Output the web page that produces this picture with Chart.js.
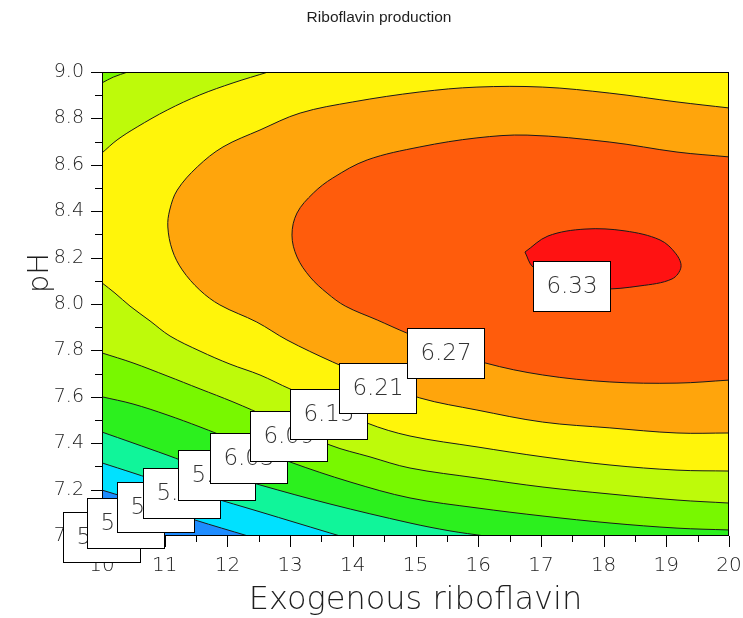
<!DOCTYPE html>
<html>
<head>
<meta charset="utf-8">
<script src="https://cdn.jsdelivr.net/npm/chart.js@4.4.1/dist/chart.umd.min.js"></script>
<style>
  html, body { margin: 0; padding: 0; background: #ffffff; }
  canvas { display: block; }
</style>
</head>
<body>
<canvas id="chart" width="743" height="618"></canvas>
<script>
// Contour levels of riboflavin production
const levels = [5.73, 5.79, 5.85, 5.91, 5.97, 6.03, 6.09, 6.15, 6.21, 6.27, 6.33];

// Axis ticks
const xTicks = [10, 11, 12, 13, 14, 15, 16, 17, 18, 19, 20];
const xMinorTicks = [10.5, 11.5, 12.5, 13.5, 14.5, 15.5, 16.5, 17.5, 18.5, 19.5];
const yTicks = [7.0, 7.2, 7.4, 7.6, 7.8, 8.0, 8.2, 8.4, 8.6, 8.8, 9.0];
const yMinorTicks = [7.1, 7.3, 7.5, 7.7, 7.9, 8.1, 8.3, 8.5, 8.7, 8.9];

// Contour lines as [exogenous riboflavin, pH] pairs
const line585 = [[10.0, 7.198], [10.766, 7.134], [11.483, 7.069], [12.329, 7.0]];
const line591 = [[10.0, 7.315], [10.494, 7.272], [11.037, 7.224], [11.722, 7.168], [12.472, 7.108], [13.158, 7.052], [13.796, 7.0]];
const line597 = [[10.0, 7.448], [10.494, 7.401], [11.037, 7.349], [11.563, 7.297], [12.52, 7.22], [13.636, 7.138], [14.912, 7.056], [15.55, 7.022], [16.108, 7.0]];
const line603 = [[10.0, 7.6], [10.494, 7.569], [11.037, 7.522], [11.563, 7.47], [12.089, 7.414], [12.998, 7.319], [13.955, 7.233], [14.912, 7.164], [15.981, 7.121], [17.033, 7.086], [18.102, 7.056], [19.171, 7.034], [20.0, 7.026]];
const line609 = [[10.0, 7.789], [10.494, 7.746], [11.037, 7.69], [11.563, 7.634], [12.089, 7.578], [12.679, 7.509], [13.636, 7.392], [14.274, 7.341], [14.912, 7.293], [15.981, 7.25], [17.033, 7.211], [18.102, 7.181], [19.171, 7.155], [20.0, 7.142]];
const line609Corner = [[10.41, 9.0], [10.18, 8.978], [10.0, 8.953]];
const line615 = [[10.0, 8.091], [10.207, 8.047], [10.447, 7.991], [10.766, 7.927], [11.085, 7.862], [11.563, 7.797], [12.041, 7.741], [12.52, 7.694], [12.998, 7.634], [13.636, 7.565], [14.226, 7.487], [14.912, 7.431], [15.981, 7.384], [17.033, 7.341], [18.102, 7.306], [19.171, 7.284], [20.0, 7.28]];
const line615Upper = [[12.65, 9.0], [12.09, 8.953], [11.56, 8.901], [11.04, 8.836], [10.56, 8.763], [10.24, 8.707], [10.0, 8.651]];
const line621 = [[20.0, 8.845], [19.17, 8.871], [18.1, 8.909], [17.03, 8.935], [15.98, 8.935], [15.07, 8.914], [14.0, 8.871], [13.16, 8.823], [12.52, 8.75], [11.93, 8.677], [11.52, 8.591], [11.2, 8.491], [11.08, 8.405], [11.05, 8.332], [11.12, 8.233], [11.28, 8.147], [11.56, 8.06], [11.88, 7.996], [12.47, 7.922], [12.95, 7.845], [13.68, 7.75], [14.43, 7.664], [15.07, 7.595], [15.98, 7.543], [17.03, 7.491], [18.1, 7.466], [19.17, 7.444], [20.0, 7.444]];
const line627 = [[20.0, 8.634], [19.17, 8.655], [18.1, 8.698], [16.78, 8.728], [15.98, 8.716], [15.07, 8.677], [14.23, 8.621], [13.68, 8.543], [13.37, 8.478], [13.11, 8.392], [13.03, 8.297], [13.11, 8.203], [13.32, 8.116], [13.59, 8.047], [13.88, 7.991], [14.39, 7.931], [14.86, 7.875], [15.55, 7.802], [16.11, 7.746], [17.03, 7.694], [18.1, 7.664], [19.17, 7.659], [20.0, 7.672]];
const line633 = [[16.746, 8.224], [17.113, 8.293], [17.703, 8.323], [18.341, 8.315], [18.9, 8.276], [19.155, 8.216], [19.234, 8.159], [19.091, 8.108], [18.581, 8.078], [17.943, 8.065], [17.305, 8.091], [16.874, 8.159]];

// Band colours, lowest band first
const baseColor = '#1E8CFF';
const bandColors = ['#00E1FF', '#10F59A', '#2CF01E', '#78F800', '#BEFA0A', '#FFF50A', '#FFA50C', '#FF5C0C', '#FF1212'];

// Top-left corners of the contour value tags, in axis units
const labelAnchors = [[9.378, 7.103], [9.761, 7.164], [10.239, 7.233], [10.654, 7.293], [11.212, 7.371], [11.722, 7.444], [12.36, 7.539], [12.998, 7.634], [13.78, 7.746], [14.864, 7.897], [16.874, 8.185]];

const X_MIN = 10, X_MAX = 20, Y_MIN = 7, Y_MAX = 9;
// Polygon corners kept well outside the axes so only contour edges show
const OX0 = X_MIN - 1.5, OX1 = X_MAX + 1.5, OY0 = Y_MIN - 0.4, OY1 = Y_MAX + 0.4;

// Continue a contour slightly past both ends so it leaves the plot cleanly
function extend(line) {
  const a = line[0], b = line[1];
  const c = line[line.length - 1], d = line[line.length - 2];
  return [[2 * a[0] - b[0], 2 * a[1] - b[1]], ...line, [2 * c[0] - d[0], 2 * c[1] - d[1]]];
}
const first = l => l[0];
const last = l => l[l.length - 1];

// Region above a line running from the left edge to the bottom edge
function aboveToBottom(line) {
  return [...extend(line), [OX1, OY0], [OX1, OY1], [OX0, OY1], [OX0, first(line)[1]]];
}
// Region above a line running from the left edge to the right edge
function aboveLeftRight(line) {
  return [...extend(line), [OX1, last(line)[1]], [OX1, OY1], [OX0, OY1], [OX0, first(line)[1]]];
}
// Band between a lower left-right line and an upper line from the top edge to the left edge
function between(lower, upper) {
  return [...extend(lower), [OX1, last(lower)[1]], [OX1, OY1], [first(upper)[0], OY1],
          ...extend(upper), [OX0, last(upper)[1]], [OX0, first(lower)[1]]];
}
// Region inside a line that starts and ends on the right edge
function insideRight(line) {
  return [...extend(line), [OX1, last(line)[1]], [OX1, first(line)[1]]];
}

const regions = [
  aboveToBottom(line585),
  aboveToBottom(line591),
  aboveToBottom(line597),
  aboveLeftRight(line603),
  between(line609, line609Corner),
  between(line615, line615Upper),
  insideRight(line621),
  insideRight(line627),
  [...line633, line633[0]]
];

const datasets = regions.map((pts, i) => ({
  data: pts.map(p => ({ x: p[0], y: p[1] })),
  showLine: true,
  fill: 'shape',
  backgroundColor: bandColors[i],
  borderColor: '#1a1a1a',
  borderWidth: 1,
  pointRadius: 0,
  pointHoverRadius: 0,
  tension: 0.35,
  clip: 0,
  order: 100 - i
}));

const TEXT = '#1e1e1e';
const thinFont = size => ({ family: '"DejaVu Sans", sans-serif', size: size, weight: '200' });

const decorations = {
  id: 'decorations',
  beforeDatasetsDraw(chart) {
    const { ctx, chartArea: a } = chart;
    ctx.save();
    ctx.fillStyle = baseColor;
    ctx.fillRect(a.left, a.top, a.width, a.height);
    ctx.restore();
  },
  afterDraw(chart) {
    const { ctx, chartArea: a, scales } = chart;
    const xs = scales.x, ys = scales.y;
    ctx.save();
    ctx.strokeStyle = '#000';
    ctx.lineWidth = 1;
    ctx.strokeRect(a.left + 0.5, a.top + 0.5, a.width - 1, a.height - 1);

    const tick = (x1, y1, x2, y2) => { ctx.beginPath(); ctx.moveTo(x1, y1); ctx.lineTo(x2, y2); ctx.stroke(); };
    xTicks.forEach(v => { const p = Math.round(xs.getPixelForValue(v)) + 0.5; tick(p, a.bottom, p, a.bottom + 11); });
    xMinorTicks.forEach(v => { const p = Math.round(xs.getPixelForValue(v)) + 0.5; tick(p, a.bottom, p, a.bottom + 6); });
    yTicks.forEach(v => { const p = Math.round(ys.getPixelForValue(v)) + 0.5; tick(a.left, p, a.left - 11, p); });
    yMinorTicks.forEach(v => { const p = Math.round(ys.getPixelForValue(v)) + 0.5; tick(a.left, p, a.left - 7, p); });

    // Chart and axis titles
    ctx.fillStyle = TEXT;
    ctx.textAlign = 'center';
    ctx.textBaseline = 'middle';
    ctx.font = '15.5px "Liberation Sans", Arial, sans-serif';
    ctx.fillText('Riboflavin production', 379, 18);
    ctx.font = '200 32px "DejaVu Sans", sans-serif';
    ctx.fillText('Exogenous riboflavin', (a.left + a.right) / 2, 601);
    ctx.save();
    ctx.translate(40, 273);
    ctx.rotate(-Math.PI / 2);
    ctx.font = '200 29px "DejaVu Sans", sans-serif';
    ctx.fillText('pH', 0, 0);
    ctx.restore();

    // Contour value tags, each one laid over the previous
    ctx.font = '200 23px "DejaVu Sans", sans-serif';
    levels.forEach((lv, i) => {
      const bx = Math.round(xs.getPixelForValue(labelAnchors[i][0]));
      const by = Math.round(ys.getPixelForValue(labelAnchors[i][1]));
      ctx.fillStyle = '#ffffff';
      ctx.fillRect(bx, by, 77, 50);
      ctx.strokeStyle = '#000';
      ctx.strokeRect(bx + 0.5, by + 0.5, 77, 50);
      ctx.fillStyle = '#333';
      ctx.fillText(lv.toFixed(2), bx + 39, by + 26);
    });
    ctx.restore();
  }
};

new Chart(document.getElementById('chart'), {
  type: 'scatter',
  data: { datasets },
  options: {
    responsive: false,
    animation: false,
    devicePixelRatio: 1,
    events: [],
    layout: { padding: { top: 72, right: 14, left: 0, bottom: 0 } },
    plugins: {
      legend: { display: false },
      tooltip: { enabled: false },
      title: { display: false },
      filler: { propagate: false }
    },
    elements: { line: { capBezierPoints: false } },
    scales: {
      x: {
        type: 'linear', min: X_MIN, max: X_MAX,
        grid: { display: false, drawTicks: false },
        border: { display: false },
        afterBuildTicks: s => { s.ticks = xTicks.map(v => ({ value: v })); },
        afterFit: s => { s.height = 82; s.paddingLeft = 0; s.paddingRight = 0; },
        ticks: { padding: 18, color: TEXT, font: thinFont(20), maxRotation: 0, autoSkip: false,
                 callback: v => String(v) }
      },
      y: {
        type: 'linear', min: Y_MIN, max: Y_MAX,
        grid: { display: false, drawTicks: false },
        border: { display: false },
        afterBuildTicks: s => { s.ticks = yTicks.map(v => ({ value: v })); },
        afterFit: s => { s.width = 102; s.paddingTop = 0; s.paddingBottom = 0; },
        ticks: { padding: 18, color: TEXT, font: thinFont(19), autoSkip: false,
                 callback: v => Number(v).toFixed(1) }
      }
    }
  },
  plugins: [decorations]
});
</script>
</body>
</html>
